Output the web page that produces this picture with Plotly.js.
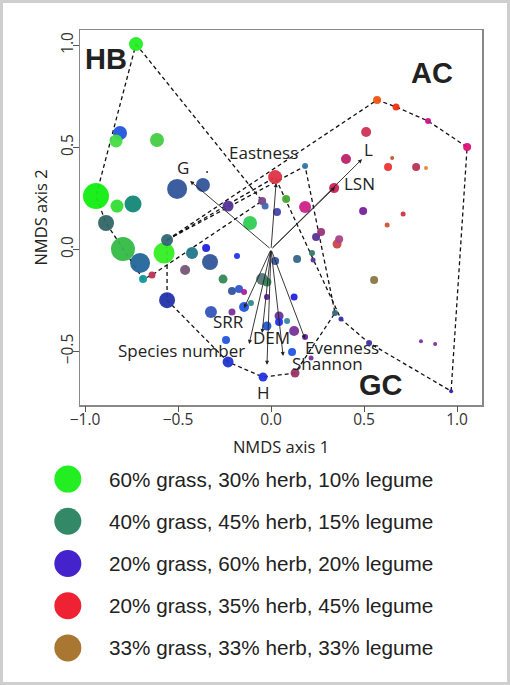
<!DOCTYPE html>
<html><head><meta charset="utf-8">
<script src="https://cdn.plot.ly/plotly-3.0.1.min.js"></script>
<style>html,body{margin:0;padding:0;background:#fff}#chart{width:510px;height:685px}</style>
</head><body><div id="chart"></div>
<script>
// ---- Data (NMDS scores of plots) ----
const nmds1 = [-0.726,-0.812,-0.833,-0.613,-0.941,-0.828,-0.742,-0.887,-0.796,-0.704,
 -0.575,-0.559,-0.688,-0.640,-0.462,-0.425,-0.559,-0.349,-0.328,-0.183,
 -0.258,-0.505,-0.366,-0.344,-0.231,-0.113,-0.048,-0.032,0.022,0.081,
 0.183,0.183,0.032,0.242,0.140,0.022,0.220,0.226,-0.048,-0.022,
 -0.210,-0.172,-0.145,-0.022,0.124,-0.145,-0.108,-0.323,-0.210,0.043,
 0.043,0.086,-0.022,0.124,0.183,-0.242,0.113,-0.231,-0.043,0.129,
 0.215,0.344,0.376,0.527,0.968,0.806,0.882,0.554,0.269,0.366,
 0.355,0.495,0.624,0.710,0.570,0.672,0.844,1.054,0.511,0.403,
 0.651,0.629,0.780,0.833,0.339];
const nmds2 = [1.006,0.570,0.531,0.536,0.261,0.212,0.222,0.129,0.001,-0.067,
 -0.018,0.046,-0.146,-0.126,-0.101,-0.018,-0.249,0.006,-0.062,-0.033,
 -0.146,0.296,0.315,0.379,0.212,0.129,0.237,0.212,0.354,0.247,
 0.207,0.408,0.183,0.060,-0.048,-0.057,-0.018,-0.052,-0.146,-0.160,
 -0.204,-0.195,-0.209,-0.234,-0.234,-0.283,-0.263,-0.307,-0.307,-0.327,
 -0.356,-0.351,-0.376,-0.400,-0.430,-0.445,-0.503,-0.552,-0.626,-0.606,
 -0.533,-0.312,-0.342,-0.459,-0.695,-0.450,-0.464,-0.150,0.085,0.050,
 0.026,0.188,0.119,0.173,0.732,0.698,0.629,0.501,0.575,0.443,
 0.448,0.403,0.403,0.399,0.300];
// symbol size (proportional to a plot variable)
const pointSize = [14,14,13,14,26,13,17,16,24,20,
 21,12,8,7,10,12,16,8,16,6,
 9,20,14,2,11,14,8,7,14,8,
 12,6,8,8,8,8,6,5,12,9,
 8,8,6,6,7,10,6,12,7,9,
 8,6,9,10,6,8,8,11,9,9,
 5,6,5,6,4,4,4,8,8,8,
 9,8,5,5,8,7,6,8,10,10,
 4,8,8,4,10];
// colour = mixture of sown functional-group proportions
const pointColor = ['#22ee22','#2255dd','#44dd44','#44cc44','#11ee11','#33dd33','#118877','#336666','#33bb44','#226699',
 '#33ee22','#336677','#119999','#bb3355','#775577','#227788','#2233aa','#2222dd','#335599','#2233ee',
 '#338855','#335599','#335599','#222222','#553399','#33cc55','#774488','#4466aa','#dd3344','#44aa33',
 '#cc2288','#3377aa','#4444aa','#553399','#336688','#3355aa','#337766','#553399','#557777','#338855',
 '#335599','#3355cc','#aa2299','#6622aa','#2222dd','#2255dd','#338888','#3355bb','#773399','#663399',
 '#2233ee','#3388aa','#2255cc','#773399','#6622aa','#2255dd','#2255dd','#2233cc','#2233dd','#993366',
 '#773399','#336677','#3333aa','#4433aa','#3322aa','#773399','#773399','#887744','#993377','#aa4488',
 '#cc4444','#772299','#cc5533','#cc3344','#ee5511','#ee3311','#cc1188','#dd1177','#cc3355','#bb2266',
 '#bb5533','#ee3333','#bb3355','#dd8833','#cc2255'];
// convex hulls of treatment groups (point numbers, 1-based)
const hullHB = [1,27,14,13,8,5,1];
const hullAC = [12,75,76,77,78,65,64,63,29,12];
const hullGC = [12,32,62,60,59,58,17,12];
const groupNames = ['HB','AC','GC'];
const groupLabelX = [-0.887,0.866,0.591];
const groupLabelY = [0.933,0.864,-0.665];
// fitted environmental / diversity vectors
const vecNames = ['G','Eastness','L','LSN','SRR','Species number','DEM','H','Shannon','Evenness'];
const vecX = [-0.435,0.027,0.489,0.344,-0.145,-0.118,-0.048,-0.022,0.065,0.183];
const vecY = [0.335,0.325,0.442,0.305,-0.288,-0.464,-0.41,-0.566,-0.523,-0.44];
const vecLabelX = [-0.473,-0.038,0.522,0.473,-0.231,-0.484,0.0,-0.038,0.301,0.382];
const vecLabelY = [0.403,0.477,0.487,0.325,-0.356,-0.494,-0.433,-0.700,-0.562,-0.480];
// legend
const legendLabels = ['60% grass, 30% herb, 10% legume','40% grass, 45% herb, 15% legume',
 '20% grass, 60% herb, 20% legume','20% grass, 35% herb, 45% legume','33% grass, 33% herb, 33% legume'];
const legendColors = ['#22ee22','#338866','#4422cc','#ee2233','#aa7733'];
const xTicks = [-1,-0.5,0,0.5,1];
const yTicks = [-0.5,0,0.5,1];

// ---- build ----
const W=510,H=685;
const FONT='"Open Sans", sans-serif';
const XR=[-1.027,1.134], YR=[-0.763,1.075];
const XD=[80/W,482/W], YD=[1-405/H,1-30/H];
const traces=[];
function hullTrace(ids){
  return {x:ids.map(i=>nmds1[i-1]), y:ids.map(i=>nmds2[i-1]), mode:'lines', type:'scatter',
    line:{color:'#111',width:1.3,dash:'4px,3px'}, hoverinfo:'skip', showlegend:false, xaxis:'x', yaxis:'y'};
}
traces.push(hullTrace(hullHB), hullTrace(hullAC), hullTrace(hullGC));
// draw big symbols first
const order=[...nmds1.keys()].sort((a,b)=>pointSize[b]-pointSize[a]);
traces.push({type:'scatter',mode:'markers',x:order.map(i=>nmds1[i]),y:order.map(i=>nmds2[i]),
  marker:{size:order.map(i=>pointSize[i]),color:order.map(i=>pointColor[i]),opacity:0.95,line:{width:0}},
  showlegend:false,xaxis:'x',yaxis:'y'});
// legend symbols
traces.push({type:'scatter',mode:'markers',x:legendLabels.map(()=>0.133),y:legendLabels.map((_,i)=>i),
  marker:{size:27,color:legendColors},showlegend:false,xaxis:'x2',yaxis:'y2',hoverinfo:'skip'});
// invisible trace to carry the tick-mark-only axes
traces.push({type:'scatter',mode:'markers',x:[0],y:[0],marker:{opacity:0},xaxis:'x3',yaxis:'y3',showlegend:false,hoverinfo:'skip'});

const ann=[];
vecNames.forEach((n,i)=>{
  ann.push({x:vecX[i],y:vecY[i],ax:0,ay:0,xref:'x',yref:'y',axref:'x',ayref:'y',text:'',
    showarrow:true,arrowhead:2,arrowsize:0.9,arrowwidth:0.9,arrowcolor:'#222',standoff:0,startstandoff:0});
  ann.push({x:vecLabelX[i],y:vecLabelY[i],xref:'x',yref:'y',text:n,showarrow:false,
    font:{family:FONT,size:17,color:'#222'}});
});
groupNames.forEach((n,i)=>ann.push({x:groupLabelX[i],y:groupLabelY[i],xref:'x',yref:'y',text:'<b>'+n+'</b>',
  showarrow:false,font:{family:'"Liberation Sans", Arial, sans-serif',size:29,color:'#222'}}));
legendLabels.forEach((t,i)=>ann.push({x:0.21,y:i,xref:'x2',yref:'y2',text:t,xanchor:'left',showarrow:false,
  font:{family:'"Liberation Sans", Arial, sans-serif',size:20.7,color:'#222'}}));

const tickfont={family:FONT,size:15.5,color:'#333'};
const layout={
  width:W,height:H,margin:{l:0,r:0,t:0,b:0},paper_bgcolor:'#fff',plot_bgcolor:'#fff',showlegend:false,
  xaxis:{domain:XD,range:XR,tickvals:xTicks,tickformat:'.1f',
    ticks:'',tickfont:tickfont,showgrid:false,zeroline:false,
    showline:true,mirror:true,linecolor:'#888',linewidth:1.5,
    title:{text:'NMDS axis 1',font:{family:FONT,size:16.5,color:'#222'},standoff:12}},
  yaxis:{domain:YD,range:YR,tickvals:yTicks,tickformat:'.1f',tickangle:-90,
    ticks:'',tickfont:tickfont,showgrid:false,zeroline:false,
    showline:true,mirror:true,linecolor:'#888',linewidth:1.5,ticklabelstandoff:-1,
    title:{text:'NMDS axis 2',font:{family:FONT,size:16.5,color:'#222'},standoff:4}},
  xaxis3:{domain:XD,range:XR,tickvals:xTicks,ticks:'outside',ticklen:6,tickcolor:'#555',tickwidth:1,
    showticklabels:false,showgrid:false,zeroline:false,showline:false,anchor:'y3',overlaying:'x'},
  yaxis3:{domain:YD,range:YR,tickvals:yTicks,ticks:'outside',ticklen:6,tickcolor:'#555',tickwidth:1,
    showticklabels:false,showgrid:false,zeroline:false,showline:false,anchor:'x3',overlaying:'y'},
  xaxis2:{domain:[0,1],range:[0,1],visible:false,fixedrange:true,anchor:'y2'},
  yaxis2:{domain:[1-669/H,1-458/H],range:[4.5,-0.5],visible:false,fixedrange:true,anchor:'x2'},
  annotations:ann,
  shapes:[{type:'rect',xref:'paper',yref:'paper',x0:0,x1:1,y0:0,y1:1,line:{color:'#cfcfcf',width:6}}]
};
Plotly.newPlot('chart',traces,layout,{displayModeBar:false,staticPlot:true});
</script></body></html>
